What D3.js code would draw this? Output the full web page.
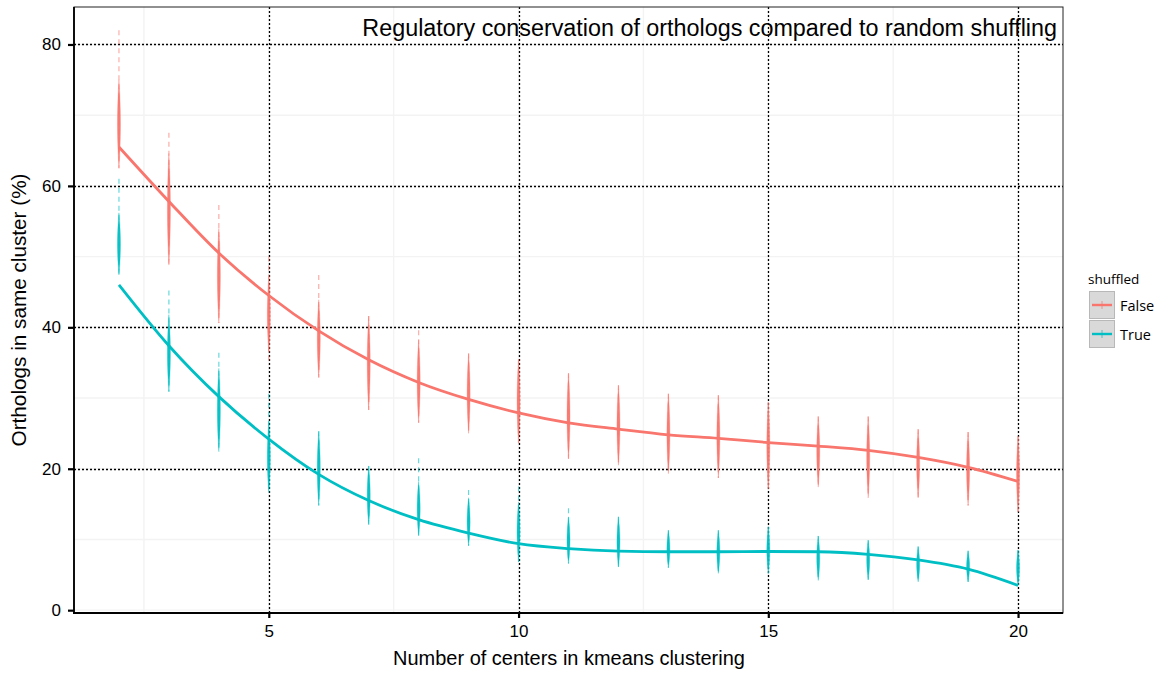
<!DOCTYPE html>
<html><head><meta charset="utf-8">
<script src="https://cdn.jsdelivr.net/npm/d3@7"></script>
<style>body{margin:0;background:#fff}svg{display:block}</style>
</head><body>
<svg id="chart" width="1169" height="673"></svg>
<script>
// ---------- data ----------
const centers = [2,3,4,5,6,7,8,9,10,11,12,13,14,15,16,17,18,19,20];
const falseLine   = [65.5,57.8,50.5,44.5,39.5,35.4,32.2,29.8,27.9,26.5,25.6,24.8,24.3,23.7,23.2,22.6,21.6,20.2,18.2];
const falseBodyHi = [75.0,64.6,54.0,47.2,43.9,41.6,38.2,36.3,35.5,33.5,31.8,30.6,30.4,29.4,27.4,27.4,25.6,25.2,24.6];
const falseBodyLo = [62.5,48.8,40.6,36.4,32.9,28.3,26.5,25.0,23.6,21.4,20.5,19.3,18.7,17.1,17.4,15.9,15.9,14.8,13.9];
const falseTailHi = [82.0,67.5,57.3,50.0,47.4,41.6,39.6,36.3,35.5,33.5,31.8,30.6,30.4,29.4,27.4,27.4,25.6,25.2,24.6];
const falseTailLo = [62.5,48.8,40.6,34.7,32.9,28.3,26.5,25.0,23.6,21.4,20.5,19.3,18.7,17.1,17.4,15.9,15.9,14.8,13.9];
const trueLine   = [46.0,37.4,30.2,24.2,19.2,15.5,12.8,10.9,9.4,8.7,8.35,8.26,8.26,8.3,8.26,7.9,7.1,5.8,3.5];
const trueBodyHi = [56.2,41.8,34.2,26.7,25.3,20.4,18.2,15.9,15.3,13.2,13.2,11.3,11.3,11.8,10.5,9.9,9.0,8.4,8.5];
const trueBodyLo = [47.4,30.9,22.4,16.6,14.8,12.1,10.5,9.1,6.8,6.6,6.1,6.0,5.2,5.2,4.2,4.3,4.0,4.0,3.5];
const trueTailHi = [61.0,45.2,36.4,30.6,25.3,20.4,21.5,17.0,17.5,14.4,13.2,11.3,11.3,11.8,10.5,9.9,9.0,8.4,8.5];
const trueTailLo = [47.4,30.9,22.4,16.6,14.8,12.1,10.5,9.1,6.8,6.6,6.1,6.0,5.2,5.2,4.2,4.3,4.0,4.0,3.5];
const xTicks = [5,10,15,20];
const yTicks = [0,20,40,60,80];
const xMinor = [2.5,7.5,12.5,17.5];
const yMinor = [10,30,50,70];
const seriesNames = ["False","True"];
const seriesColors = ["#F8766D","#00BFC4"];
const titleText = "Regulatory conservation of orthologs compared to random shuffling";
const xLabel = "Number of centers in kmeans clustering";
const yLabel = "Orthologs in same cluster (%)";
const legendTitle = "shuffled";

const series = [
  {name:seriesNames[0], color:seriesColors[0], line:falseLine, bHi:falseBodyHi, bLo:falseBodyLo, tHi:falseTailHi, tLo:falseTailLo},
  {name:seriesNames[1], color:seriesColors[1], line:trueLine, bHi:trueBodyHi, bLo:trueBodyLo, tHi:trueTailHi, tLo:trueTailLo}
];

// ---------- layout ----------
const svg = d3.select("#chart");
const P = {left:74, right:1063, top:7, bottom:613};
const x = d3.scaleLinear().domain([1.1,20.9]).range([P.left,P.right]);
const y = d3.scaleLinear().domain([-0.4,85.3]).range([P.bottom,P.top]);

function fit(sel, target){
  const n = sel.node();
  const fs = parseFloat(sel.attr("font-size"));
  const w = n.getComputedTextLength();
  if (w>0) sel.attr("font-size", (fs*target/w).toFixed(2));
}

const g = svg.append("g");
// faint grid
const faint = "#f3f3f3";
g.selectAll(".ymn").data(yMinor.concat(yTicks)).join("line")
  .attr("x1",P.left).attr("x2",P.right).attr("y1",d=>y(d)).attr("y2",d=>y(d))
  .attr("stroke",faint).attr("stroke-width",1.4);
g.selectAll(".xmn").data(xMinor.concat(xTicks)).join("line")
  .attr("y1",P.top).attr("y2",P.bottom).attr("x1",d=>x(d)).attr("x2",d=>x(d))
  .attr("stroke",faint).attr("stroke-width",1.4);
// dotted major grid
g.selectAll(".ymj").data(yTicks.filter(d=>d>0)).join("line")
  .attr("x1",P.left).attr("x2",P.right).attr("y1",d=>Math.round(y(d))+0.5).attr("y2",d=>Math.round(y(d))+0.5)
  .attr("stroke","#000").attr("stroke-width",1.3).attr("stroke-dasharray","2,2");
g.selectAll(".xmj").data(xTicks).join("line")
  .attr("y1",P.top).attr("y2",P.bottom).attr("x1",d=>Math.round(x(d))+0.5).attr("x2",d=>Math.round(x(d))+0.5)
  .attr("stroke","#000").attr("stroke-width",1.3).attr("stroke-dasharray","2,2");

// violins (thin spindles)
const profile = [0, 0.55, 0.85, 1, 0.85, 0.55, 0];
series.forEach(s=>{
  const vg = g.append("g");
  centers.forEach((c,i)=>{
    const cx = x(c);
    vg.append("line").attr("x1",cx).attr("x2",cx).attr("y1",y(s.tHi[i])).attr("y2",y(s.tLo[i]))
      .attr("stroke",s.color).attr("stroke-width",1.2).attr("stroke-opacity",0.6).attr("stroke-dasharray","5,4");
    const y0 = y(s.bHi[i]), y1 = y(s.bLo[i]);
    const w = 1.6;
    const pts = profile.map((p,k)=>({yy: y0 + (y1-y0)*k/(profile.length-1), hw: p*w}));
    const ar = d3.area().curve(d3.curveBasis).y(d=>d.yy).x0(d=>cx-d.hw).x1(d=>cx+d.hw);
    vg.append("path").attr("d",ar(pts)).attr("fill",s.color).attr("fill-opacity",0.95)
      .attr("stroke",s.color).attr("stroke-width",0.5).attr("stroke-opacity",0.6);
  });
});

// smooth lines
const lineGen = d3.line().x((d,i)=>x(centers[i])).y(d=>y(d)).curve(d3.curveMonotoneX);
series.forEach(s=>{
  g.append("path").attr("d",lineGen(s.line)).attr("fill","none")
    .attr("stroke",s.color).attr("stroke-width",2.8);
});

// panel border
g.append("rect").attr("x",P.left).attr("y",P.top).attr("width",P.right-P.left).attr("height",P.bottom-P.top)
  .attr("fill","none").attr("stroke","#222").attr("stroke-width",1);
// axis lines
g.append("line").attr("x1",P.left).attr("x2",P.left).attr("y1",P.top).attr("y2",P.bottom+1).attr("stroke","#000").attr("stroke-width",1.8);
g.append("line").attr("x1",P.left-1).attr("x2",P.right).attr("y1",P.bottom).attr("y2",P.bottom).attr("stroke","#000").attr("stroke-width",1.8);

// axes via d3
const font = "'Liberation Sans', Arial, Helvetica, sans-serif";
const yAxis = svg.append("g").attr("transform",`translate(${P.left},0)`)
  .call(d3.axisLeft(y).tickValues(yTicks).tickSize(6).tickPadding(7));
yAxis.select(".domain").remove();
yAxis.selectAll(".tick line").attr("stroke","#000").attr("stroke-width",2.2);
yAxis.selectAll(".tick text").attr("font-family",font).attr("font-size",17).attr("fill","#000");

const xAxis = svg.append("g").attr("transform",`translate(0,${P.bottom})`)
  .call(d3.axisBottom(x).tickValues(xTicks).tickSize(5).tickPadding(7));
xAxis.select(".domain").remove();
xAxis.selectAll(".tick line").attr("stroke","#000").attr("stroke-width",2.2);
xAxis.selectAll(".tick text").attr("font-family",font).attr("font-size",17).attr("fill","#000");

// title inside panel
const t = svg.append("text").attr("x",1057).attr("y",36).attr("text-anchor","end")
  .attr("font-family",font).attr("font-size",22).attr("fill","#000").text(titleText);
fit(t,695);

// axis titles
const xl = svg.append("text").attr("x",569).attr("y",665).attr("text-anchor","middle")
  .attr("font-family",font).attr("font-size",17).attr("fill","#000").text(xLabel);
fit(xl,352);
const yl = svg.append("text").attr("transform","translate(26,310) rotate(-90)").attr("text-anchor","middle")
  .attr("font-family",font).attr("font-size",17).attr("fill","#000").text(yLabel);
fit(yl,273);

// legend
const lfont = "'Open Sans', 'DejaVu Sans', sans-serif";
const lg = svg.append("g").attr("transform","translate(1089,0)");
lg.append("text").attr("x",-1).attr("y",284).attr("font-family",lfont).attr("font-size",13.5).attr("fill","#000").text(legendTitle);
series.forEach((s,i)=>{
  const ky = 291 + i*29;
  lg.append("rect").attr("x",0.5).attr("y",ky+0.5).attr("width",25).attr("height",27)
    .attr("fill","#d9d9d9").attr("stroke","#b8b8b8").attr("stroke-width",1);
  lg.append("line").attr("x1",3).attr("x2",23).attr("y1",ky+14).attr("y2",ky+14).attr("stroke",s.color).attr("stroke-width",2.4);
  lg.append("line").attr("x1",13).attr("x2",13).attr("y1",ky+10).attr("y2",ky+18).attr("stroke",s.color).attr("stroke-width",1).attr("stroke-opacity",0.7);
  lg.append("text").attr("x",31).attr("y",ky+20).attr("font-family",lfont).attr("font-size",14.5).attr("fill","#000").text(s.name);
});
</script>
</body></html>
